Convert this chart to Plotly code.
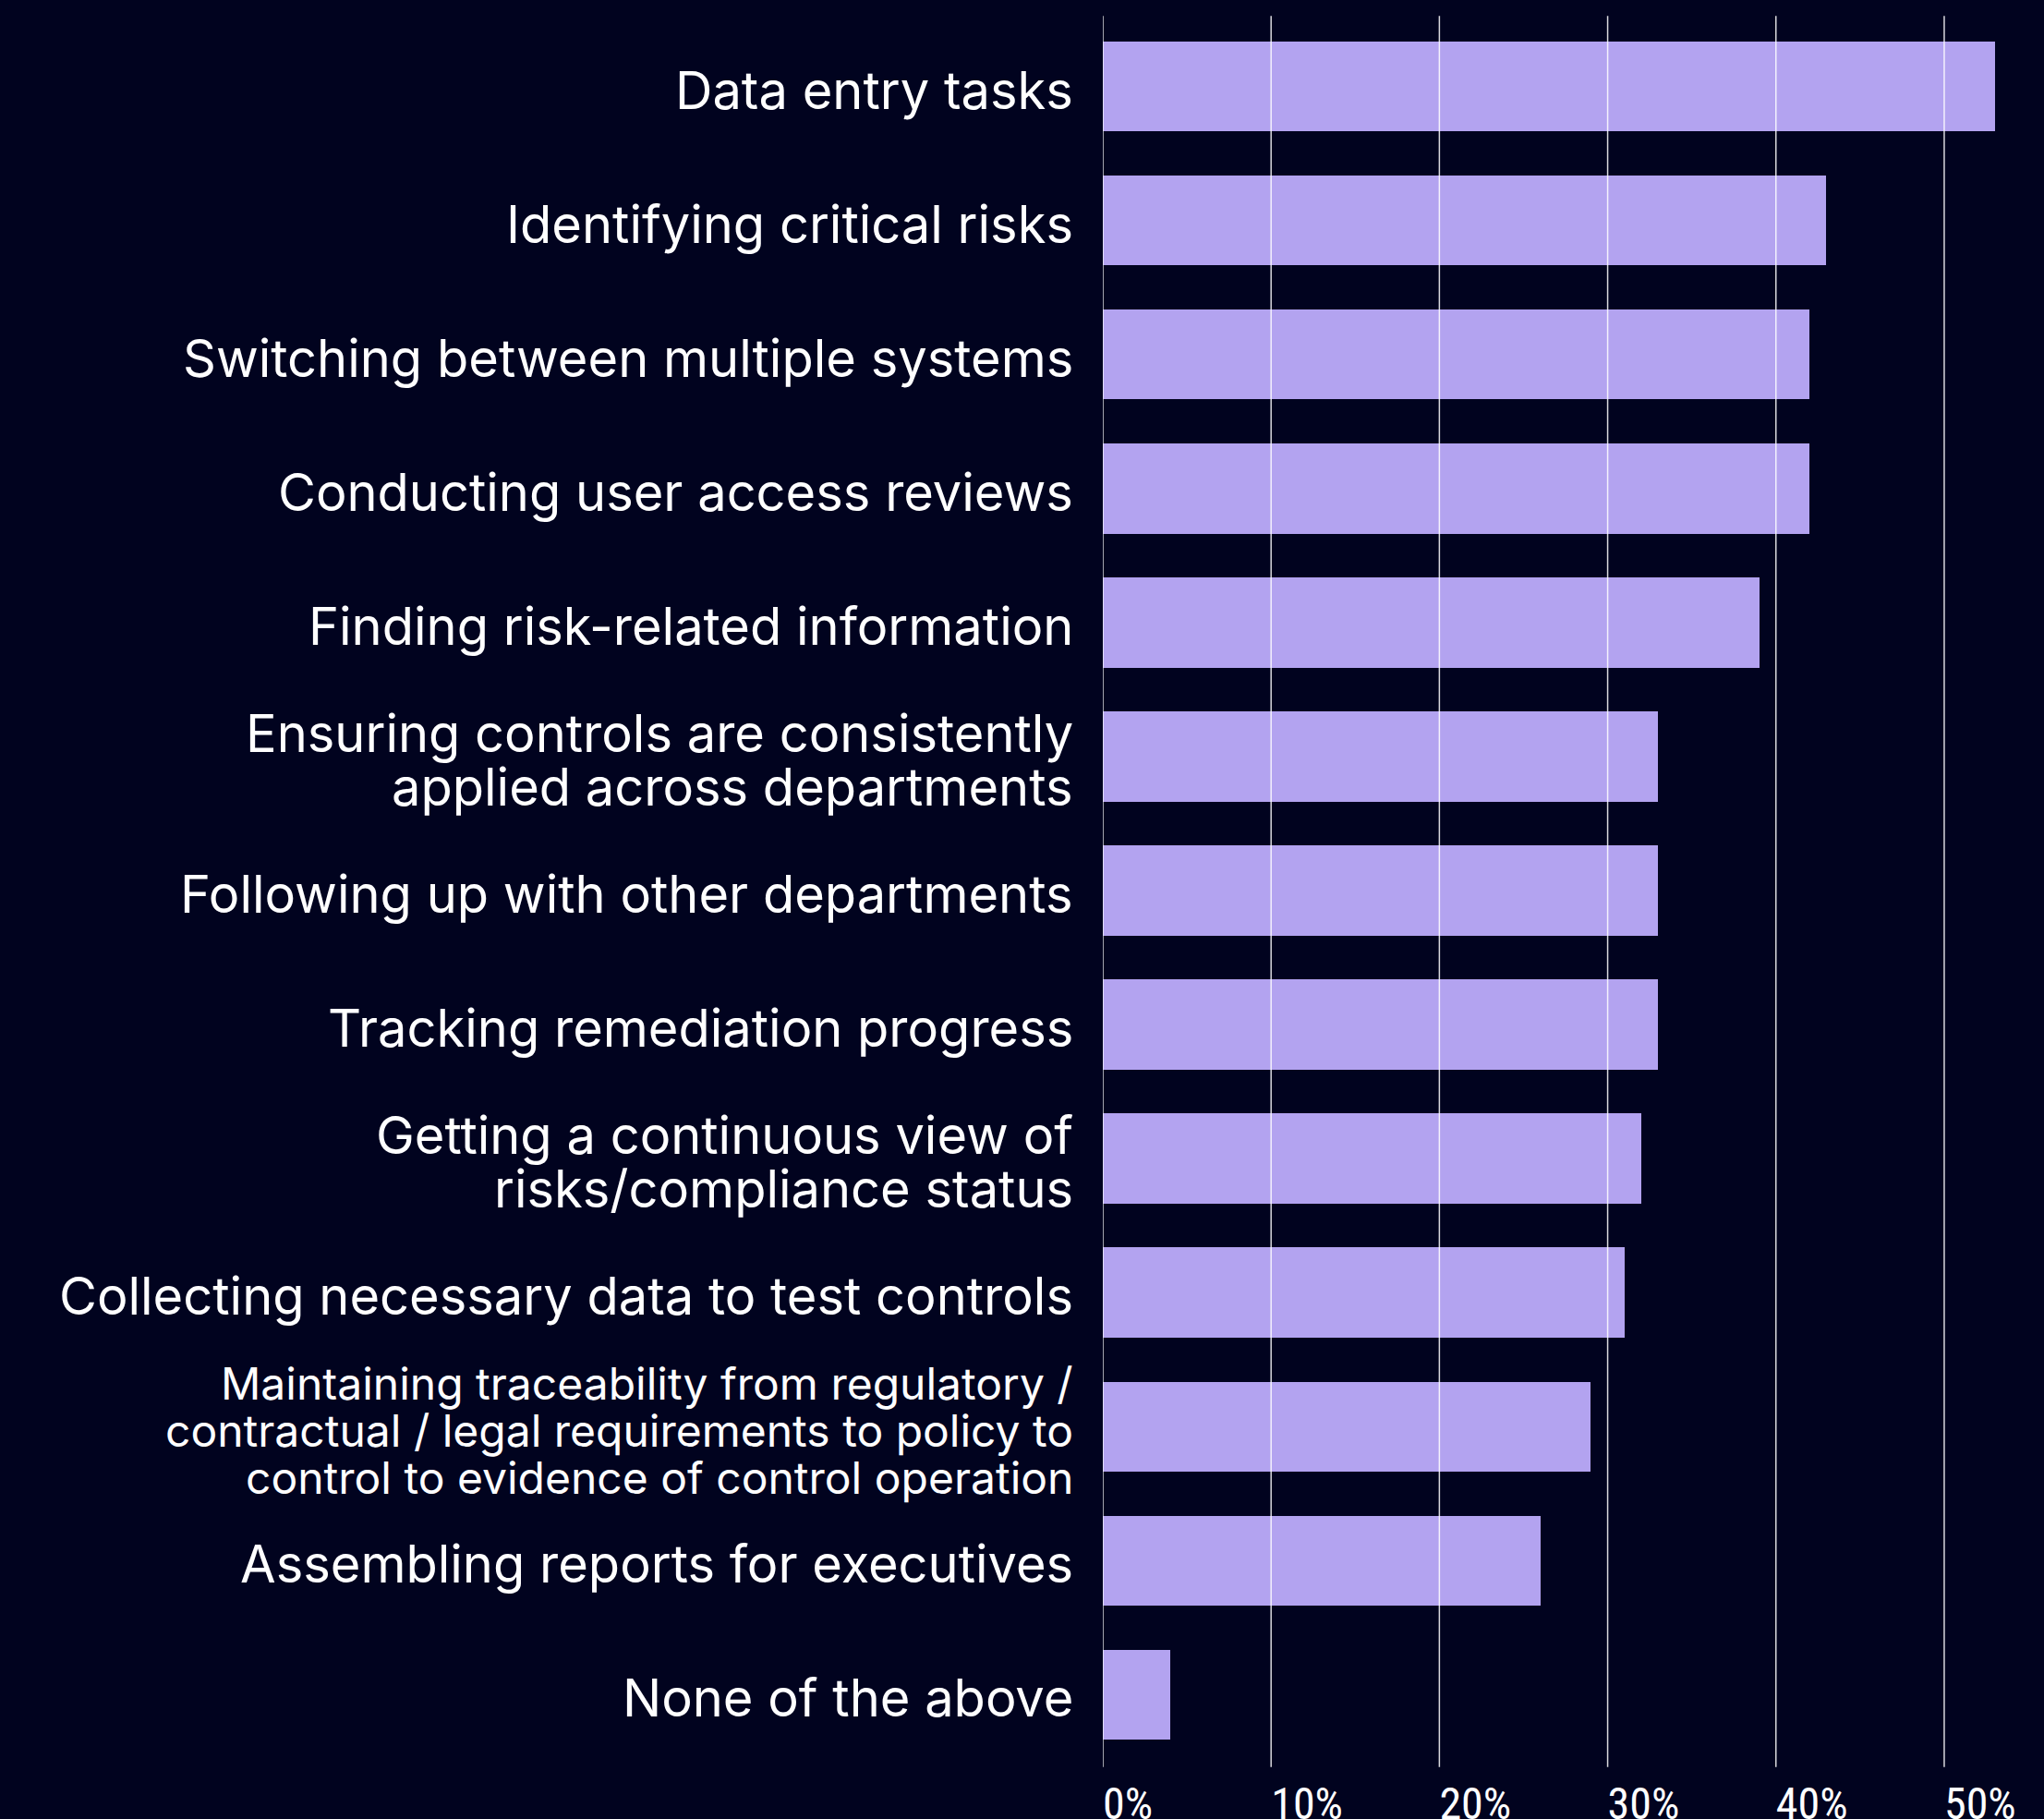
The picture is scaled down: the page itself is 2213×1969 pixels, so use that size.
import plotly.graph_objects as go

# Survey results: share of respondents naming each task as a time sink
categories = [
    "Data entry tasks",
    "Identifying critical risks",
    "Switching between multiple systems",
    "Conducting user access reviews",
    "Finding risk-related information",
    "Ensuring controls are consistently<br>applied across departments",
    "Following up with other departments",
    "Tracking remediation progress",
    "Getting a continuous view of<br>risks/compliance status",
    "Collecting necessary data to test controls",
    "Maintaining traceability from regulatory /<br>contractual / legal requirements to policy to<br>control to evidence of control operation",
    "Assembling reports for executives",
    "None of the above",
]
values = [53, 43, 42, 42, 39, 33, 33, 33, 32, 31, 29, 26, 4]
tick_values = [0, 10, 20, 30, 40, 50]

BG = "#01031f"
BAR = "#b3a3f0"
LABEL_FONT = "Inter, Lato, Roboto, sans-serif"

fig = go.Figure()
fig.add_trace(go.Bar(
    x=values,
    y=categories,
    orientation="h",
    width=0.672,
    marker=dict(color=BAR, line=dict(width=0)),
    hoverinfo="x+y",
))

# Category labels drawn as annotations, one per line, so line spacing stays tight
annotations = []
for cat in categories:
    lines = cat.split("<br>")
    n = len(lines)
    size = 48 if n >= 3 else 56
    spacing = 51 if n >= 3 else 58
    for i, line in enumerate(lines):
        offset = (i - (n - 1) / 2) * spacing
        annotations.append(dict(
            xref="paper", x=0, xanchor="right", xshift=-30,
            yref="y", y=cat, yanchor="middle", yshift=-offset - 4,
            text=line, showarrow=False,
            font=dict(family=LABEL_FONT, size=size, color="white"),
        ))

# Vertical gridlines drawn above the bars
shapes = []
for v in tick_values:
    shapes.append(dict(
        type="line", xref="x", x0=v, x1=v,
        yref="paper", y0=-0.003, y1=1.002,
        line=dict(color="rgba(255,255,255,0.85)", width=1.5),
        layer="above",
    ))

fig.update_layout(
    width=2213, height=1969,
    paper_bgcolor=BG, plot_bgcolor=BG,
    margin=dict(l=1194, r=0, t=21, b=62, autoexpand=False),
    showlegend=False,
    bargap=0,
    annotations=annotations,
    shapes=shapes,
    xaxis=dict(
        range=[0, 55.93],
        automargin=False,
        tickvals=tick_values,
        ticktext=[f"{v}%" for v in tick_values],
        ticklabelposition="outside right",
        showgrid=False, zeroline=False, showline=False,
        ticks="", ticklabelstandoff=13,
        tickfont=dict(family="Liberation Sans Narrow, Roboto Condensed, Roboto, sans-serif",
                      size=48, color="white"),
    ),
    yaxis=dict(
        automargin=False,
        categoryorder="array",
        categoryarray=categories,
        autorange="reversed",
        showticklabels=False,
        showgrid=False, zeroline=False, showline=False, ticks="",
    ),
)

fig.write_html("out.html")
